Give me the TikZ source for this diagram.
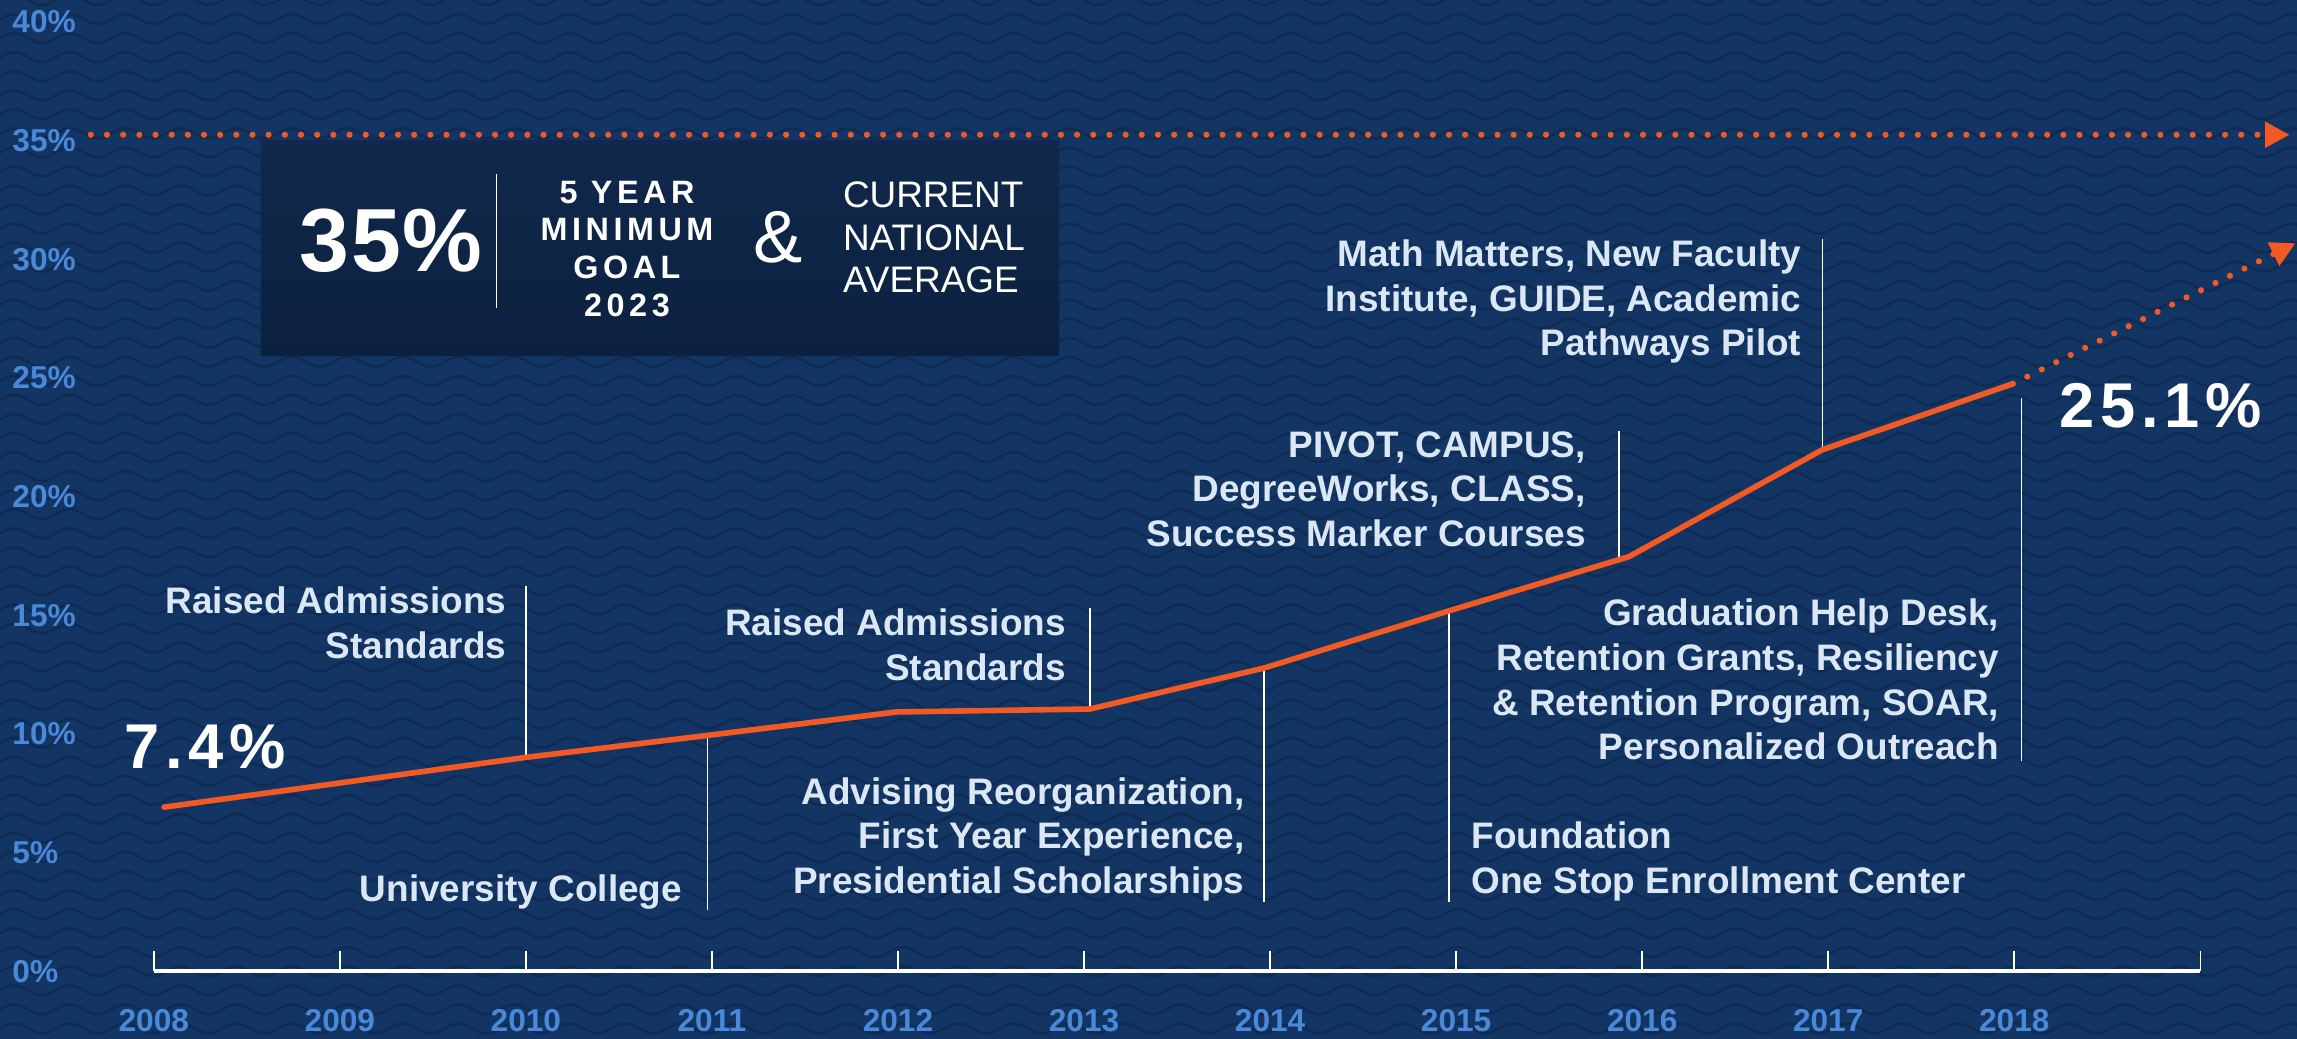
\documentclass[tikz,border=0pt]{standalone}
\usepackage{fontspec}
\setmainfont{Liberation Sans}
\usetikzlibrary{arrows.meta,decorations.pathmorphing,positioning}

\definecolor{bgblue}{HTML}{133563}
\definecolor{waveblue}{HTML}{0F2B54}
\definecolor{boxtop}{HTML}{10284B}
\definecolor{boxbottom}{HTML}{0C2140}
\definecolor{accent}{HTML}{F15A24}
\definecolor{paleblue}{HTML}{DCE7F6}
\definecolor{axisblue}{HTML}{4A88D8}

\tikzset{
  milestone/.style={font=\bfseries\fontsize{10.5}{12.7}\selectfont, text=paleblue, inner sep=0pt},
  leader/.style={draw=white, line width=0.45pt},
  trend/.style={draw=accent, line width=1.6pt, line join=round, line cap=round},
  goal/.style={draw=accent, line width=1.75pt, line cap=round, dash pattern=on 0pt off 4.6pt,
    -{Triangle[length=7pt,width=7pt]}},
  pct/.style={font=\bfseries\fontsize{9}{10}\selectfont, text=axisblue, inner sep=0pt},
  bignum/.style={font=\bfseries\fontsize{18}{20}\selectfont\addfontfeature{LetterSpace=9}, text=white, inner sep=0pt},
}

\begin{document}
\begin{tikzpicture}[x=0.01465cm, y=-0.01465cm]
  \useasboundingbox (0,0) rectangle (1568,709);
  \fill[bgblue] (0,0) rectangle (1568,709);
  \begin{scope}
    \clip (0,0) rectangle (1568,709);
    \foreach \r in {0,...,56}
      \draw[waveblue, line width=0.75pt, decorate,
        decoration={snake, amplitude=1.4pt, segment length=15.8pt}] (-40,\r*13) -- (1640,\r*13);
  \end{scope}

  % goal box
  \shade[top color=boxtop, bottom color=boxbottom] (178,96) rectangle (723,243);
  \node[font=\bfseries\fontsize{25.5}{28}\selectfont\addfontfeature{LetterSpace=2}, text=white, inner sep=0pt] (goalpct) at (267,164) {35\%};
  \draw[leader] (339,119) -- (339,210);
  \node[font=\bfseries\fontsize{9.2}{10.8}\selectfont\addfontfeature{LetterSpace=14}, text=white,
    align=center, inner sep=0pt] (goalyear) at (428,170) {5 YEAR\\MINIMUM\\GOAL\\2023};
  \node[font=\fontsize{21}{24}\selectfont, text=white, inner sep=0pt] (amp) at (531,162) {\&};
  \node[font=\fontsize{10.5}{12.1}\selectfont, text=white, align=left, anchor=west,
    inner sep=0pt] (national) at (575,162) {CURRENT\\NATIONAL\\AVERAGE};

  % axes
  \foreach \p [count=\i from 0] in {0,5,...,40}
    \node[pct, anchor=west] (pct\p) at (8,663-81*\i) {\p\%};
  \foreach \i in {0,...,11}
    \draw[white, line width=0.45pt] (105+127*\i,649) -- (105+127*\i,663);
  \draw[white, line width=1pt] (105,663) -- (1502,663);
  \foreach \yr [count=\i from 0] in {2008,...,2018}
    \node[pct] (yr\yr) at (105+127*\i,697) {\yr};

  % data
  \coordinate (d08) at (112,551);
  \coordinate (d10) at (359,517);
  \coordinate (d11) at (483,502);
  \coordinate (d12) at (612,486);
  \coordinate (d13) at (744,484);
  \coordinate (d14) at (863,456);
  \coordinate (d15) at (989,417);
  \coordinate (d16) at (1112,380);
  \coordinate (d17) at (1244,307);
  \coordinate (d18) at (1374,262);
  \coordinate (goal west) at (62,92);
  \coordinate (goal east) at (1563,92);
  \coordinate (proj) at (1567,166);

  % milestones
  \node[milestone, align=right, anchor=east] (lab10) at (346,425) {Raised Admissions\\Standards};
  \node[milestone, anchor=east] (lab11) at (466,609) {University College};
  \node[milestone, align=right, anchor=east] (lab13) at (728,440) {Raised Admissions\\Standards};
  \node[milestone, align=right, anchor=east] (lab14) at (850,573)
    {Advising Reorganization,\\First Year Experience,\\Presidential Scholarships};
  \node[milestone, align=left, anchor=west] (lab15) at (1004,588) {Foundation\\One Stop Enrollment Center};
  \node[milestone, align=right, anchor=east] (lab16) at (1083,334)
    {PIVOT, CAMPUS,\\DegreeWorks, CLASS,\\Success Marker Courses};
  \node[milestone, align=right, anchor=east] (lab17) at (1230,206)
    {Math Matters, New Faculty\\Institute, GUIDE, Academic\\Pathways Pilot};
  \node[milestone, align=right, anchor=east] (lab18) at (1365,464)
    {Graduation Help Desk,\\Retention Grants, Resiliency\\\& Retention Program, SOAR,\\Personalized Outreach};

  \draw[leader] (d10 |- lab10.north) -- (d10);
  \draw[leader] (d11) -- (d11 |- lab11.south);
  \draw[leader] (d13 |- lab13.north) -- (d13);
  \draw[leader] (d14) -- (d14 |- lab14.south);
  \draw[leader] (d15) -- (d15 |- lab15.south);
  \draw[leader] ([shift={(-7,0)}]d16 |- lab16.north) -- ([shift={(-7,0)}]d16);
  \draw[leader] (d17 |- lab17.north) -- (d17);
  \draw[leader] ([shift={(6,10)}]d18) -- ([shift={(6,0)}]d18 |- lab18.south);

  \draw[trend] (d08) -- (d10) -- (d11) -- (d12) -- (d13) -- (d14) -- (d15) -- (d16) -- (d17) -- (d18);
  \draw[goal] (goal west) -- (goal east);
  \draw[goal] (d18) -- (proj);

  \node[bignum] (start) at (140,510) {7.4\%};
  \node[bignum] (finish) at (1475,277) {25.1\%};
\end{tikzpicture}
\end{document}
